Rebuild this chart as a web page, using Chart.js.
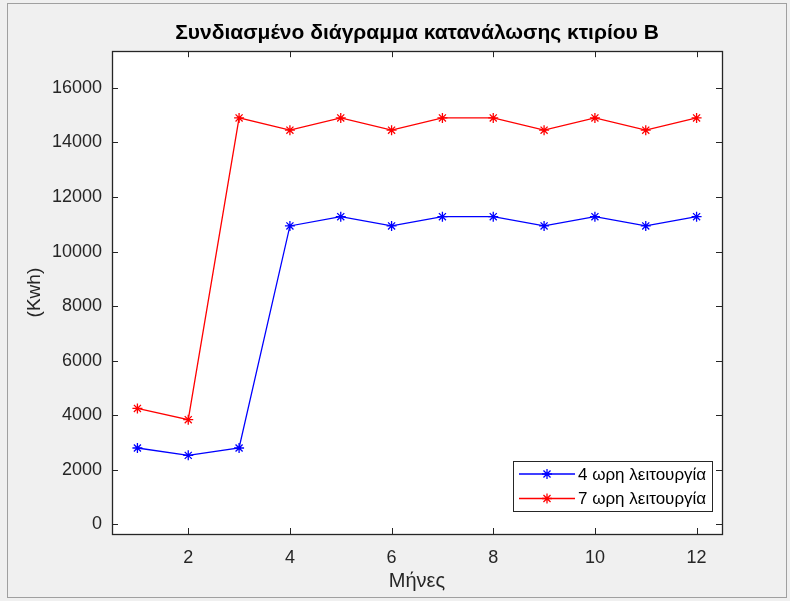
<!DOCTYPE html>
<html>
<head>
<meta charset="utf-8">
<script src="https://cdn.jsdelivr.net/npm/chart.js@4"></script>
<style>
  body { margin: 0; background: #f0f0f0; }
  #wrap { width: 790px; height: 601px; }
</style>
</head>
<body>
<div id="wrap"><canvas id="chart" width="790" height="601"></canvas></div>
<script>
const months = [1, 2, 3, 4, 5, 6, 7, 8, 9, 10, 11, 12];
const run4h = [2800, 2530, 2800, 10940, 11280, 10940, 11280, 11280, 10940, 11280, 10940, 11280];
const run7h = [4250, 3840, 14900, 14450, 14900, 14450, 14900, 14900, 14450, 14900, 14450, 14900];
const xTicks = [2, 4, 6, 8, 10, 12];
const yTicks = [0, 2000, 4000, 6000, 8000, 10000, 12000, 14000, 16000];
const seriesNames = ['4 ωρη λειτουργία', '7 ωρη λειτουργία'];

const FONT = "'Liberation Sans', Arial, Helvetica, sans-serif";
const AXIS = '#262626';

// background, frame, white plot area
const backdrop = {
  id: 'backdrop',
  beforeDraw(chart) {
    const { ctx, chartArea: a } = chart;
    ctx.save();
    ctx.fillStyle = '#f0f0f0';
    ctx.fillRect(0, 0, chart.width, chart.height);
    ctx.strokeStyle = '#a0a0a0';
    ctx.lineWidth = 1;
    ctx.strokeRect(7.5, 3.5, 779, 594);
    ctx.fillStyle = '#ffffff';
    ctx.fillRect(a.left, a.top, a.right - a.left, a.bottom - a.top);
    ctx.restore();
  }
};

// box around the axes with inward ticks on all sides, then the legend
const axesBox = {
  id: 'axesBox',
  afterDatasetsDraw(chart) {
    const { ctx, chartArea: a, scales } = chart;
    const tl = 6;
    ctx.save();
    ctx.strokeStyle = AXIS;
    ctx.lineWidth = 1;
    ctx.beginPath();
    scales.x.ticks.forEach(t => {
      const px = Math.round(scales.x.getPixelForValue(t.value)) + 0.5;
      ctx.moveTo(px, a.bottom); ctx.lineTo(px, a.bottom - tl);
      ctx.moveTo(px, a.top); ctx.lineTo(px, a.top + tl);
    });
    scales.y.ticks.forEach(t => {
      const py = Math.round(scales.y.getPixelForValue(t.value)) + 0.5;
      ctx.moveTo(a.left, py); ctx.lineTo(a.left + tl, py);
      ctx.moveTo(a.right, py); ctx.lineTo(a.right - tl, py);
    });
    ctx.stroke();
    ctx.lineWidth = 1.3;
    ctx.strokeRect(Math.round(a.left) + 0.5, Math.round(a.top) + 0.5,
      Math.round(a.right - a.left), Math.round(a.bottom - a.top));

    // legend
    const w = 199, h = 50;
    const lx = a.right - 10 - w, ly = a.bottom - 23 - h;
    ctx.fillStyle = '#ffffff';
    ctx.fillRect(lx, ly, w, h);
    ctx.lineWidth = 1;
    ctx.strokeStyle = AXIS;
    ctx.strokeRect(lx + 0.5, ly + 0.5, w, h);
    ctx.font = '17px ' + FONT;
    ctx.textBaseline = 'middle';
    ctx.textAlign = 'left';
    chart.data.datasets.forEach((ds, i) => {
      const y = ly + 13 + i * 24.5;
      ctx.strokeStyle = ds.borderColor;
      ctx.lineWidth = 1.3;
      ctx.beginPath();
      ctx.moveTo(lx + 6, y); ctx.lineTo(lx + 62, y);
      ctx.stroke();
      Chart.helpers.drawPoint(ctx, {
        pointStyle: 'star', radius: 5, borderWidth: 1.3, rotation: 0
      }, lx + 34, y);
      ctx.fillStyle = '#000000';
      ctx.fillText(ds.label, lx + 65, y + 1);
    });
    ctx.restore();
  }
};

const makeSet = (label, values, color) => ({
  label: label,
  data: months.map((m, i) => ({ x: m, y: values[i] })),
  borderColor: color,
  backgroundColor: color,
  borderWidth: 1.3,
  pointStyle: 'star',
  pointRadius: 5,
  pointBorderWidth: 1.3,
  pointBorderColor: color,
  tension: 0
});

new Chart(document.getElementById('chart'), {
  type: 'line',
  data: {
    datasets: [
      makeSet(seriesNames[0], run4h, '#0000ff'),
      makeSet(seriesNames[1], run7h, '#ff0000')
    ]
  },
  options: {
    responsive: false,
    animation: false,
    layout: { padding: { left: 10, right: 68, top: 0, bottom: 4 } },
    scales: {
      x: {
        type: 'linear',
        min: 0.5,
        max: 12.5,
        afterBuildTicks: s => { s.ticks = xTicks.map(v => ({ value: v })); },
        afterFit: s => { s.height = 63; },
        grid: { display: false },
        border: { display: false },
        ticks: { color: AXIS, font: { family: FONT, size: 18 }, padding: 5, maxRotation: 0,
          callback: v => String(v) },
        title: {
          display: true, text: 'Μήνες', color: AXIS,
          font: { family: FONT, size: 20 }, padding: { top: 0, bottom: 4 }
        }
      },
      y: {
        min: -352,
        max: 17345,
        afterBuildTicks: s => { s.ticks = yTicks.map(v => ({ value: v })); },
        afterFit: s => { s.width = 102; },
        grid: { display: false },
        border: { display: false },
        ticks: { color: AXIS, font: { family: FONT, size: 18 }, padding: 2,
          callback: v => String(v) },
        title: {
          display: true, text: '(Kwh)', color: AXIS,
          font: { family: FONT, size: 19 }, padding: { top: 13, bottom: 0 }
        }
      }
    },
    plugins: {
      legend: { display: false },
      tooltip: { enabled: false },
      title: {
        display: true,
        fullSize: false,
        text: 'Συνδιασμένο διάγραμμα κατανάλωσης κτιρίου Β',
        color: '#000000',
        font: { family: FONT, size: 21, weight: 'bold' },
        padding: { top: 21, bottom: 5 }
      }
    }
  },
  plugins: [backdrop, axesBox]
});
</script>
</body>
</html>
